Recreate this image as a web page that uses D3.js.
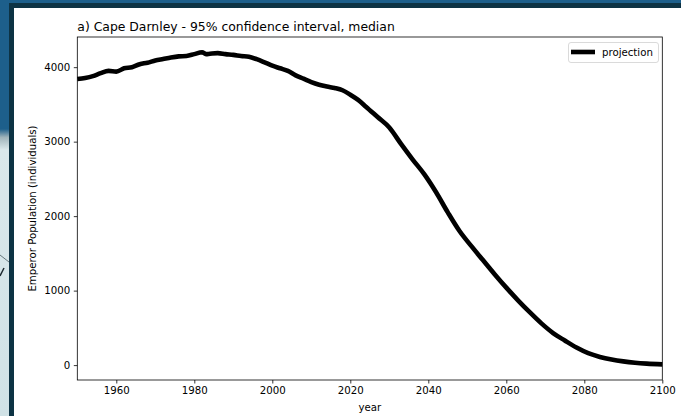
<!DOCTYPE html>
<html>
<head>
<meta charset="utf-8">
<script src="https://cdn.jsdelivr.net/npm/d3@7"></script>
<style>
  html, body { margin: 0; padding: 0; background: #ffffff; }
  svg { display: block; font-family: "DejaVu Sans", sans-serif; }
</style>
</head>
<body>
<div id="chart"></div>
<script>
// data
const years = [1950, 1952, 1954, 1956, 1958, 1960, 1962, 1964, 1966, 1968,
    1970, 1972, 1974, 1976, 1978, 1980, 1982, 1983, 1984, 1986,
    1988, 1990, 1992, 1994, 1996, 1998, 2000, 2002, 2004, 2006,
    2008, 2010, 2012, 2014, 2016, 2018, 2020, 2022, 2024, 2027,
    2030, 2033, 2036, 2039, 2042, 2045, 2048, 2051, 2054, 2057,
    2060, 2063, 2066, 2069, 2072, 2075, 2078, 2081, 2084, 2087,
    2090, 2093, 2096, 2100];
const projection = [3840, 3855, 3880, 3920, 3950, 3940, 3985, 4000, 4040, 4060,
    4090, 4110, 4130, 4145, 4150, 4175, 4200, 4175, 4180, 4188,
    4175, 4165, 4150, 4140, 4107, 4065, 4020, 3985, 3950, 3890,
    3845, 3800, 3765, 3740, 3720, 3690, 3630, 3560, 3470, 3330,
    3190, 2970, 2760, 2560, 2320, 2050, 1800, 1600, 1410, 1220,
    1040, 870, 710, 560, 430, 330, 235, 160, 110, 75,
    50, 32, 20, 10];
const xTicks = [1960, 1980, 2000, 2020, 2040, 2060, 2080, 2100];
const yTicks = [0, 1000, 2000, 3000, 4000];
const title = 'a) Cape Darnley - 95% confidence interval, median';

const width = 681, height = 416;
const svg = d3.select('#chart').append('svg')
    .attr('width', width)
    .attr('height', height);

// surrounding screenshot frame
svg.append('rect').attr('width', width).attr('height', height).attr('fill', '#ffffff');
const grad = svg.append('defs').append('linearGradient')
    .attr('id', 'side').attr('x1', 0).attr('x2', 0).attr('y1', 0).attr('y2', 1);
grad.append('stop').attr('offset', '0%').attr('stop-color', '#1d5f8b');
grad.append('stop').attr('offset', '31%').attr('stop-color', '#1d5f8b');
grad.append('stop').attr('offset', '33%').attr('stop-color', '#9fb3ba');
grad.append('stop').attr('offset', '36%').attr('stop-color', '#dae8eb');
grad.append('stop').attr('offset', '100%').attr('stop-color', '#d0e2e6');
svg.append('rect').attr('x', 0).attr('y', 0).attr('width', width).attr('height', 3).attr('fill', '#1d5f8b');
svg.append('rect').attr('x', 0).attr('y', 0).attr('width', 9).attr('height', height).attr('fill', 'url(#side)');
svg.append('rect').attr('x', 9).attr('y', 3).attr('width', width - 9).attr('height', 5).attr('fill', '#0d3344');
svg.append('rect').attr('x', 9).attr('y', 3).attr('width', 5).attr('height', height - 3).attr('fill', '#0d3344');
svg.append('line').attr('x1', 0).attr('y1', 255).attr('x2', 9).attr('y2', 262)
    .attr('stroke', '#4a5a60').attr('stroke-width', 0.8);
svg.append('path').attr('d', 'M0,276 L2,272 L4,268').attr('fill', 'none')
    .attr('stroke', '#1c2a30').attr('stroke-width', 1.5);

const x = d3.scaleLinear().domain([1950, 2100]).range([77.3, 662.3]);
const y = d3.scaleLinear().domain([-200, 4405]).range([380, 37]);

const xAxis = svg.append('g')
    .attr('transform', 'translate(0,380)')
    .call(d3.axisBottom(x).tickValues(xTicks).tickFormat(d3.format('d'))
        .tickSize(3.5).tickPadding(3.5));
const yAxis = svg.append('g')
    .attr('transform', 'translate(77.3,0)')
    .call(d3.axisLeft(y).tickValues(yTicks).tickFormat(d3.format('d'))
        .tickSize(3.5).tickPadding(3.5));
[xAxis, yAxis].forEach(a => {
    a.select('.domain').remove();
    a.selectAll('text').attr('font-family', '"DejaVu Sans", sans-serif')
        .attr('font-size', 10.2).attr('fill', '#000');
    a.selectAll('line').attr('stroke', '#000').attr('stroke-width', 0.8);
});

// projection line
const line = d3.line()
    .x((d, i) => x(years[i]))
    .y(d => y(d))
    .curve(d3.curveMonotoneX);
svg.append('path')
    .datum(projection)
    .attr('d', line)
    .attr('fill', 'none')
    .attr('stroke', '#000')
    .attr('stroke-width', 4.6)
    .attr('stroke-linejoin', 'round')
    .attr('stroke-linecap', 'butt');

// frame
svg.append('rect')
    .attr('x', x(1950)).attr('y', y(4405))
    .attr('width', x(2100) - x(1950)).attr('height', y(-200) - y(4405))
    .attr('fill', 'none').attr('stroke', '#000').attr('stroke-width', 0.8);

// title and axis labels
svg.append('text')
    .attr('x', x(1950)).attr('y', 31)
    .attr('font-size', 12.4)
    .text(title);
svg.append('text')
    .attr('x', (x(1950) + x(2100)) / 2).attr('y', 411)
    .attr('text-anchor', 'middle')
    .attr('font-size', 10.2)
    .text('year');
svg.append('text')
    .attr('transform', `translate(36,${(y(-200) + y(4405)) / 2}) rotate(-90)`)
    .attr('text-anchor', 'middle')
    .attr('font-size', 10.2)
    .text('Emperor Population (individuals)');

// legend
const legend = svg.append('g');
legend.append('rect')
    .attr('x', 568.5).attr('y', 42.5).attr('width', 90).attr('height', 20)
    .attr('rx', 2.5)
    .attr('fill', '#fff').attr('fill-opacity', 0.8)
    .attr('stroke', '#d0d0d0').attr('stroke-width', 0.8);
legend.append('line')
    .attr('x1', 571).attr('x2', 595).attr('y1', 52).attr('y2', 52)
    .attr('stroke', '#000').attr('stroke-width', 4.6);
legend.append('text')
    .attr('x', 602).attr('y', 55.8)
    .attr('font-size', 10.2)
    .text('projection');
</script>
</body>
</html>
